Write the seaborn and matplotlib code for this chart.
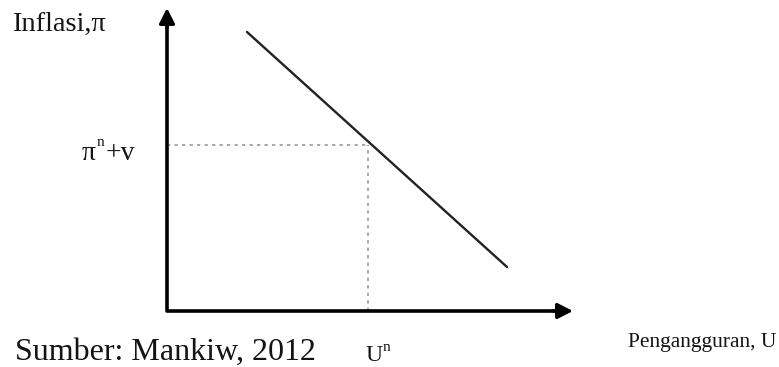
import matplotlib
matplotlib.use("Agg")
import matplotlib.pyplot as plt
import pandas as pd
import seaborn as sns

# Phillips curve (units ~ pixels from the origin of the diagram)
curve_u = [80, 340]
curve_pi = [279, 44]
u_natural = 201
pi_natural = 166
u_axis_max = 406
pi_axis_max = 303

W, H = 779, 367
ORIGIN = (167, 311)  # pixel position of the axis corner

sns.set_theme(style="white")
plt.rcParams['font.family'] = ['Liberation Serif', 'DejaVu Serif']

fig = plt.figure(figsize=(W / 100, H / 100), dpi=100)
ax = fig.add_axes([0, 0, 1, 1])
ax.set_xlim(-ORIGIN[0], W - ORIGIN[0])
ax.set_ylim(-(H - ORIGIN[1]), ORIGIN[1])
ax.axis('off')

# guide lines to the natural rate point
dot = (0, (2, 2.5))
ax.plot([0, u_natural], [pi_natural, pi_natural], color='#9a9a9a', lw=1.2, ls=dot)
ax.plot([u_natural, u_natural], [0, pi_natural], color='#9a9a9a', lw=1.2, ls=dot)

# the curve
df = pd.DataFrame({'U': curve_u, 'pi': curve_pi})
sns.lineplot(data=df, x='U', y='pi', ax=ax, color='#222222', lw=1.7)

# axes with arrows
ax.plot([0, 0, u_axis_max - 10], [pi_axis_max - 10, 0, 0], color='black', lw=2.6,
        solid_joinstyle='round', solid_capstyle='butt')
head = dict(arrowstyle='-|>,head_length=0.65,head_width=0.33', color='black', lw=2.4,
            mutation_scale=14, shrinkA=0, shrinkB=0)
ax.annotate('', xy=(0, pi_axis_max), xytext=(0, pi_axis_max - 20), arrowprops=head)
ax.annotate('', xy=(u_axis_max, 0), xytext=(u_axis_max - 20, 0), arrowprops=head)


def px_text(x, y, s, size, **kw):
    fig.text(x / W, 1 - y / H, s, fontsize=size, va='baseline', ha='left',
             color='#141414', **kw)


px_text(12, 31, 'Inflasi,π', 20.5)
px_text(82, 160, 'π', 20)
px_text(97, 146, 'n', 11)
px_text(106, 160, '+v', 20)
px_text(15, 360, 'Sumber: Mankiw, 2012', 23)
px_text(365, 361, 'U', 17)
px_text(383, 351, 'n', 11)
px_text(628, 347, 'Pengangguran, U', 15.5)

fig.savefig('out.png', dpi=100)
